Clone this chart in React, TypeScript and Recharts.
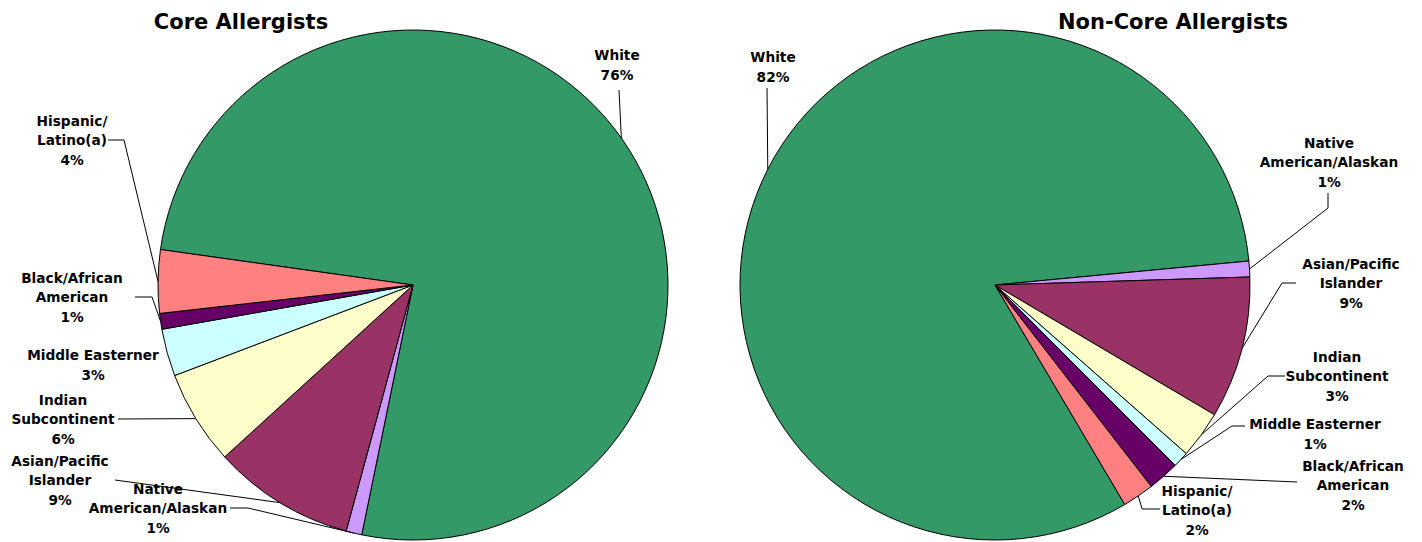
import React from 'react';
import { PieChart, Pie, Cell } from 'recharts';

// slice order runs clockwise from the White slice
const categories = [
  'White',
  'Native American/Alaskan',
  'Asian/Pacific Islander',
  'Indian Subcontinent',
  'Middle Easterner',
  'Black/African American',
  'Hispanic/Latino(a)',
];
const labelNames = [
  ['White'],
  ['Native', 'American/Alaskan'],
  ['Asian/Pacific', 'Islander'],
  ['Indian', 'Subcontinent'],
  ['Middle Easterner'],
  ['Black/African', 'American'],
  ['Hispanic/', 'Latino(a)'],
];
const coreValues = [76, 1, 9, 6, 3, 1, 4];
const nonCoreValues = [82, 1, 9, 3, 1, 2, 2];

const colors = ['#339966', '#CC99FF', '#993366', '#FFFFCC', '#CCFFFF', '#660066', '#FF8080'];

const coreData = categories.map((name, i) => ({ name, value: coreValues[i] }));
const nonCoreData = categories.map((name, i) => ({ name, value: nonCoreValues[i] }));

// label placement relative to pie centre: text centre (tx,ty), elbow (ex,ey), attach (ax,ay)
type LabelPos = { tx: number; ty: number; ex?: number; ey?: number; ax?: number; ay?: number };

const coreLabels: LabelPos[] = [
  { tx: 204, ty: -220, ex: 206, ey: -195, ax: 206, ay: -195 },
  { tx: -255, ty: 223, ex: -165, ey: 223, ax: -183, ay: 223 },
  { tx: -353, ty: 195, ex: -298, ey: 195, ax: -298, ay: 195 },
  { tx: -350, ty: 134, ex: -295, ey: 134, ax: -295, ay: 134 },
  { tx: -320, ty: 80 },
  { tx: -341, ty: 12, ex: -261, ey: 12, ax: -278, ay: 12 },
  { tx: -341, ty: -145, ex: -289, ey: -145, ax: -305, ay: -145 },
];
const nonCoreLabels: LabelPos[] = [
  { tx: -222, ty: -218, ex: -228, ey: -197, ax: -228, ay: -197 },
  { tx: 334, ty: -123, ex: 333, ey: -77, ax: 333, ay: -92 },
  { tx: 356, ty: -2, ex: 287, ey: -2, ax: 301, ay: -2 },
  { tx: 342, ty: 91, ex: 273, ey: 91, ax: 290, ay: 91 },
  { tx: 320, ty: 149, ex: 237, ey: 141, ax: 250, ay: 141 },
  { tx: 358, ty: 200, ex: 302, ey: 197, ax: 302, ay: 197 },
  { tx: 202, ty: 225, ex: 147, ey: 224, ax: 165, ay: 224 },
];

const RAD = Math.PI / 180;
const FONT = '"DejaVu Sans", Verdana, sans-serif';
const LH = 19.5;

const makeLabel = (layout: LabelPos[]) => (props: any) => {
  const { cx, cy, midAngle, outerRadius, index, value } = props;
  const pos = layout[index];
  const px = cx + outerRadius * Math.cos(-midAngle * RAD);
  const py = cy + outerRadius * Math.sin(-midAngle * RAD);
  const lines = [...labelNames[index], `${value}%`];
  const tx = cx + pos.tx;
  const firstY = cy + pos.ty - ((lines.length - 1) / 2) * LH + 5;
  return (
    <g key={`lbl-${index}`}>
      {pos.ex !== undefined && (
        <polyline
          points={`${px},${py} ${cx + pos.ex},${cy + pos.ey} ${cx + pos.ax},${cy + pos.ay}`}
          fill="none"
          stroke="#000"
          strokeWidth={1}
        />
      )}
      <text x={tx} y={firstY} textAnchor="middle" fontFamily={FONT} fontWeight="bold" fontSize={13.7} fill="#000">
        {lines.map((l, i) => (
          <tspan key={i} x={tx} y={firstY + i * LH}>
            {l}
          </tspan>
        ))}
      </text>
    </g>
  );
};

const titleStyle: React.CSSProperties = {
  position: 'absolute',
  top: 10,
  fontFamily: FONT,
  fontWeight: 'bold',
  fontSize: 21,
  transform: 'translateX(-50%)',
  whiteSpace: 'nowrap',
};

const App = () => {
  return (
    <div style={{ position: 'absolute', left: 0, top: 0, width: 1422, height: 542, background: '#fff' }}>
      <div style={{ ...titleStyle, left: 241 }}>Core Allergists</div>
      <div style={{ ...titleStyle, left: 1173 }}>Non-Core Allergists</div>
      <PieChart width={1422} height={542}>
        <Pie
          data={coreData}
          dataKey="value"
          cx={408}
          cy={280}
          outerRadius={255}
          startAngle={172}
          endAngle={-188}
          stroke="#000"
          strokeWidth={1}
          label={makeLabel(coreLabels)}
          labelLine={false}
          isAnimationActive={false}
        >
          {coreData.map((d, i) => (
            <Cell key={d.name} fill={colors[i]} />
          ))}
        </Pie>
        <Pie
          data={nonCoreData}
          dataKey="value"
          cx={990}
          cy={280}
          outerRadius={255}
          startAngle={300.6}
          endAngle={-59.4}
          stroke="#000"
          strokeWidth={1}
          label={makeLabel(nonCoreLabels)}
          labelLine={false}
          isAnimationActive={false}
        >
          {nonCoreData.map((d, i) => (
            <Cell key={d.name} fill={colors[i]} />
          ))}
        </Pie>
      </PieChart>
    </div>
  );
};

export default App;
